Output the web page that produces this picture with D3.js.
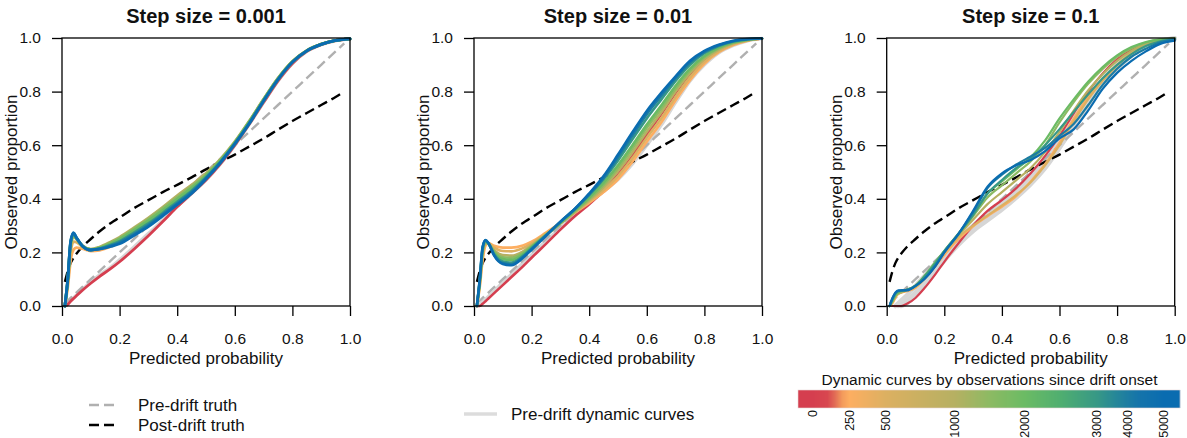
<!DOCTYPE html>
<html><head><meta charset="utf-8">
<script src="https://cdn.jsdelivr.net/npm/d3@7"></script>
<style>
body{margin:0;background:#fff}
svg{display:block}
text{font-family:"Liberation Sans",Arial,Helvetica,sans-serif;fill:#111}
</style>
</head><body>
<svg id="chart" width="1187" height="438"></svg>
<script>
// ---------------- DATA ----------------
const xGrid = [0.01,0.02,0.03,0.04,0.05,0.07,0.1,0.13,0.17,0.2,0.25,0.3,0.35,0.4,0.45,0.5,0.55,0.6,0.65,0.7,0.75,0.8,0.85,0.9,0.95,1.0];
const truthX = [0.01,0.02,0.03,0.04,0.05,0.07,0.1,0.13,0.17,0.2,0.25,0.3,0.35,0.4,0.45,0.5,0.55,0.6,0.65,0.7,0.75,0.8,0.85,0.9,0.95,0.98];
const preTruth = [0.01,0.02,0.03,0.04,0.05,0.07,0.1,0.13,0.17,0.2,0.25,0.3,0.35,0.4,0.45,0.5,0.55,0.6,0.65,0.7,0.75,0.8,0.85,0.9,0.95,0.98];
const postTruth = [0.09,0.13,0.16,0.18,0.195,0.22,0.25,0.278,0.31,0.33,0.365,0.395,0.425,0.452,0.48,0.51,0.538,0.565,0.595,0.625,0.658,0.69,0.72,0.75,0.78,0.8];

const panelTitles = ["Step size = 0.001","Step size = 0.01","Step size = 0.1"];
const curveObs = [0,250,500,1000,1500,2000,3000,4000,5000];

const p1Curves = [
 [0,0.005,0.018,0.028,0.038,0.058,0.085,0.11,0.14,0.165,0.212,0.262,0.315,0.37,0.42,0.47,0.53,0.6,0.678,0.76,0.84,0.905,0.95,0.975,0.99,0.997],
 [0,0.07,0.17,0.21,0.218,0.214,0.205,0.208,0.222,0.238,0.272,0.31,0.35,0.393,0.437,0.483,0.538,0.605,0.682,0.765,0.845,0.91,0.952,0.976,0.991,0.997],
 [0,0.085,0.2,0.24,0.238,0.222,0.21,0.215,0.235,0.252,0.288,0.326,0.366,0.408,0.448,0.492,0.545,0.61,0.687,0.77,0.849,0.912,0.953,0.977,0.991,0.997],
 [0,0.09,0.22,0.258,0.25,0.226,0.212,0.22,0.24,0.257,0.292,0.329,0.369,0.412,0.452,0.495,0.548,0.613,0.69,0.772,0.85,0.913,0.954,0.977,0.991,0.997],
 [0,0.095,0.23,0.263,0.252,0.225,0.211,0.218,0.237,0.253,0.288,0.324,0.364,0.405,0.446,0.49,0.545,0.611,0.688,0.771,0.849,0.912,0.953,0.977,0.991,0.997],
 [0,0.097,0.235,0.266,0.253,0.225,0.21,0.216,0.233,0.249,0.283,0.318,0.357,0.399,0.44,0.486,0.542,0.609,0.686,0.769,0.848,0.911,0.953,0.977,0.991,0.997],
 [0,0.1,0.238,0.27,0.254,0.225,0.209,0.214,0.228,0.242,0.274,0.308,0.347,0.389,0.43,0.48,0.538,0.607,0.683,0.767,0.846,0.91,0.952,0.976,0.991,0.997],
 [0,0.1,0.24,0.272,0.255,0.225,0.209,0.213,0.225,0.237,0.268,0.302,0.342,0.383,0.425,0.477,0.536,0.605,0.681,0.766,0.845,0.91,0.952,0.976,0.991,0.997],
 [0,0.1,0.242,0.274,0.256,0.225,0.209,0.212,0.222,0.232,0.263,0.296,0.336,0.378,0.42,0.474,0.534,0.604,0.68,0.765,0.845,0.91,0.952,0.976,0.991,0.997]
];
const p1Gray = [
 [0,0.008,0.02,0.03,0.04,0.06,0.09,0.115,0.145,0.172,0.22,0.27,0.32,0.372,0.42,0.47,0.53,0.6,0.678,0.76,0.84,0.905,0.95,0.975,0.99,0.997]
];

const p2Curves = [
 [0,0,0.008,0.018,0.028,0.048,0.078,0.108,0.148,0.18,0.232,0.285,0.335,0.38,0.43,0.49,0.56,0.64,0.715,0.795,0.865,0.92,0.956,0.979,0.992,0.998],
 [0,0.07,0.17,0.225,0.235,0.225,0.218,0.218,0.226,0.24,0.274,0.31,0.348,0.385,0.425,0.473,0.538,0.613,0.685,0.768,0.843,0.904,0.947,0.974,0.99,0.998],
 [0,0.08,0.19,0.232,0.234,0.218,0.205,0.204,0.216,0.233,0.27,0.309,0.349,0.39,0.433,0.485,0.552,0.628,0.7,0.78,0.853,0.911,0.951,0.977,0.991,0.998],
 [0,0.085,0.2,0.238,0.232,0.208,0.19,0.188,0.204,0.226,0.266,0.308,0.351,0.395,0.443,0.503,0.573,0.65,0.722,0.8,0.869,0.922,0.957,0.98,0.992,0.998],
 [0,0.09,0.205,0.24,0.232,0.203,0.182,0.18,0.198,0.222,0.265,0.309,0.354,0.4,0.452,0.515,0.588,0.665,0.736,0.812,0.878,0.928,0.961,0.982,0.993,0.998],
 [0,0.092,0.21,0.242,0.233,0.198,0.175,0.172,0.193,0.22,0.264,0.31,0.357,0.405,0.46,0.525,0.6,0.677,0.748,0.822,0.886,0.933,0.964,0.984,0.994,0.998],
 [0,0.095,0.215,0.244,0.234,0.193,0.166,0.162,0.187,0.216,0.264,0.313,0.362,0.414,0.473,0.543,0.622,0.7,0.77,0.84,0.9,0.943,0.97,0.987,0.995,0.998],
 [0,0.098,0.22,0.245,0.235,0.19,0.16,0.156,0.183,0.213,0.263,0.314,0.362,0.417,0.478,0.555,0.636,0.716,0.784,0.85,0.908,0.948,0.973,0.988,0.996,0.998],
 [0,0.1,0.22,0.246,0.235,0.188,0.157,0.152,0.18,0.21,0.262,0.315,0.362,0.42,0.485,0.565,0.648,0.728,0.795,0.857,0.915,0.952,0.975,0.99,0.996,0.998]
];
const p2Gray = [
 [0,0.005,0.015,0.025,0.035,0.055,0.088,0.118,0.16,0.19,0.242,0.292,0.34,0.385,0.428,0.472,0.53,0.6,0.675,0.76,0.84,0.9,0.945,0.972,0.99,0.998]
];

const p3Curves = [
 [0,0,0,0,0,0.008,0.03,0.065,0.12,0.165,0.235,0.3,0.355,0.395,0.44,0.495,0.56,0.635,0.72,0.8,0.868,0.92,0.955,0.978,0.992,0.998],
 [0,0.01,0.03,0.045,0.05,0.055,0.068,0.1,0.15,0.19,0.25,0.297,0.335,0.37,0.41,0.465,0.53,0.61,0.7,0.782,0.845,0.9,0.945,0.975,0.99,0.998],
 [0,0.015,0.035,0.05,0.055,0.06,0.075,0.105,0.155,0.198,0.258,0.3,0.338,0.375,0.415,0.462,0.525,0.6,0.69,0.772,0.84,0.898,0.944,0.975,0.99,0.998],
 [0,0.015,0.035,0.045,0.05,0.06,0.072,0.105,0.16,0.2,0.265,0.322,0.38,0.425,0.47,0.515,0.575,0.65,0.73,0.805,0.865,0.915,0.952,0.978,0.992,0.998],
 [0,0.02,0.04,0.05,0.055,0.06,0.075,0.11,0.163,0.205,0.27,0.335,0.405,0.45,0.495,0.54,0.6,0.685,0.762,0.83,0.885,0.93,0.962,0.983,0.994,0.998],
 [0,0.02,0.04,0.05,0.056,0.06,0.077,0.11,0.165,0.205,0.272,0.34,0.42,0.465,0.51,0.555,0.618,0.7,0.772,0.838,0.892,0.935,0.966,0.985,0.995,0.998],
 [0,0.025,0.045,0.055,0.057,0.06,0.075,0.108,0.16,0.205,0.27,0.34,0.42,0.47,0.515,0.55,0.6,0.66,0.725,0.79,0.85,0.9,0.94,0.97,0.988,0.997],
 [0,0.028,0.048,0.056,0.058,0.06,0.075,0.1,0.152,0.2,0.27,0.35,0.44,0.49,0.528,0.558,0.59,0.635,0.68,0.75,0.825,0.885,0.93,0.96,0.984,0.995],
 [0,0.03,0.05,0.058,0.058,0.058,0.075,0.1,0.15,0.2,0.27,0.355,0.445,0.495,0.525,0.545,0.578,0.625,0.66,0.73,0.81,0.87,0.915,0.95,0.978,0.99]
];
const p3Gray = [
 [null,null,null,0,0.005,0.02,0.05,0.09,0.14,0.18,0.24,0.29,0.33,0.37,0.42,0.47,0.53,0.6,0.68,0.76,0.83,0.89,0.94,0.97,0.988,0.998],
 [null,null,0,0.01,0.02,0.04,0.075,0.11,0.16,0.195,0.255,0.3,0.345,0.385,0.435,0.49,0.55,0.62,0.7,0.775,0.845,0.9,0.945,0.972,0.99,0.998],
 [null,null,null,null,0,0.01,0.04,0.08,0.13,0.17,0.23,0.28,0.32,0.36,0.405,0.455,0.515,0.59,0.67,0.75,0.825,0.885,0.935,0.968,0.988,0.998]
];

const colorObs = [0,100,150,200,250,500,1000,1500,2000,2500,3000,3600,4300,5000];
const colorHex = ["#d53e4f","#d8474f","#e26c55","#f39a5c","#fdae61","#dcb061","#b6b062","#8cba63","#6bbb64","#4fae70","#379886","#268798","#1574aa","#0a6cb0"];
const cbTicks = [0,250,500,1000,2000,3000,4000,5000];
const axisTicks = [0,0.2,0.4,0.6,0.8,1.0];
const cbTitle = "Dynamic curves by observations since drift onset";
const legendLabels = ["Pre-drift truth","Post-drift truth","Pre-drift dynamic curves"];
const xLabel = "Predicted probability", yLabel = "Observed proportion";

// ---------------- DRAW ----------------
const svg = d3.select("#chart");
const color = d3.scaleLinear().domain(colorObs).range(colorHex).interpolate(d3.interpolateRgb).clamp(true);
const panels = [
  {curves:p1Curves, gray:p1Gray, lw:2.8},
  {curves:p2Curves, gray:p2Gray, lw:2.6},
  {curves:p3Curves, gray:p3Gray, lw:2.2}
];
const lefts = [62, 474, 886.7], plotTop = 38, pw = 288, ph = 268;

panels.forEach((P, i) => {
  const g = svg.append("g");
  const x = d3.scaleLinear().domain([0,1]).range([lefts[i], lefts[i]+pw]);
  const y = d3.scaleLinear().domain([0,1]).range([plotTop+ph, plotTop]);
  const line = d3.line().defined(d => d[1] != null).x(d => x(d[0])).y(d => y(d[1])).curve(d3.curveMonotoneX);

  P.gray.forEach(arr => {
    g.append("path").attr("d", line(xGrid.map((v,k) => [v, arr[k]])))
      .attr("fill","none").attr("stroke","#d6d6d6").attr("stroke-width", i===2?4.5:3.5)
      .attr("stroke-linecap","round");
  });
  g.append("path").attr("d", line(truthX.map((v,k)=>[v, preTruth[k]])))
    .attr("fill","none").attr("stroke","#b0b0b0").attr("stroke-width",2.4).attr("stroke-dasharray","10,5");
  g.append("path").attr("d", line(truthX.map((v,k)=>[v, postTruth[k]])))
    .attr("fill","none").attr("stroke","#000").attr("stroke-width",2.4).attr("stroke-dasharray","10,5");

  P.curves.forEach((arr, k) => {
    g.append("path").attr("d", line(xGrid.map((v,j) => [v, arr[j]])))
      .attr("fill","none").attr("stroke", color(curveObs[k])).attr("stroke-width", P.lw)
      .attr("stroke-linejoin","round").attr("stroke-linecap","round");
  });

  g.append("rect").attr("x", x(0)).attr("y", y(1)).attr("width", pw).attr("height", ph)
    .attr("fill","none").attr("stroke","#000").attr("stroke-width",1.3);

  const ax = g.append("g").attr("transform", `translate(0,${y(0)})`)
    .call(d3.axisBottom(x).tickValues(axisTicks).tickFormat(d3.format(".1f")).tickSize(10).tickPadding(17));
  const ay = g.append("g").attr("transform", `translate(${x(0)},0)`)
    .call(d3.axisLeft(y).tickValues(axisTicks).tickFormat(d3.format(".1f")).tickSize(10).tickPadding(11));
  [ax, ay].forEach(a => {
    a.select(".domain").remove();
    a.selectAll(".tick line").attr("stroke","#000").attr("stroke-width",1.3);
    a.selectAll(".tick text").attr("font-size","15.5px").attr("fill","#111")
      .attr("font-family",'"Liberation Sans",Arial,sans-serif');
  });

  g.append("text").attr("x", (x(0)+x(1))/2).attr("y", 23).attr("text-anchor","middle")
    .attr("font-size","20px").attr("font-weight","bold").text(panelTitles[i]);
  g.append("text").attr("x", (x(0)+x(1))/2).attr("y", 364).attr("text-anchor","middle")
    .attr("font-size","17px").text(xLabel);
  g.append("text").attr("transform", `translate(${x(0)-51},${(y(0)+y(1))/2}) rotate(-90)`)
    .attr("text-anchor","middle").attr("dy","0.35em").attr("font-size","17px").text(yLabel);
});

// legend
const lg = svg.append("g");
lg.append("line").attr("x1",89).attr("x2",116).attr("y1",405).attr("y2",405)
  .attr("stroke","#b0b0b0").attr("stroke-width",2.4).attr("stroke-dasharray","10,5");
lg.append("line").attr("x1",89).attr("x2",116).attr("y1",425).attr("y2",425)
  .attr("stroke","#000").attr("stroke-width",2.4).attr("stroke-dasharray","10,5");
lg.append("text").attr("x",138).attr("y",405).attr("dy","0.35em").attr("font-size","17px").text(legendLabels[0]);
lg.append("text").attr("x",138).attr("y",425).attr("dy","0.35em").attr("font-size","17px").text(legendLabels[1]);
lg.append("line").attr("x1",464).attr("x2",497).attr("y1",414).attr("y2",414)
  .attr("stroke","#dcdcdc").attr("stroke-width",3.5);
lg.append("text").attr("x",511).attr("y",414).attr("dy","0.35em").attr("font-size","17px").text(legendLabels[2]);

// colorbar
const cbX0 = 798, cbX1 = 1180, cbY = 390, cbH = 18;
const cbPos = d3.scaleLinear()
  .domain([0,500,1000,2000,3000,4000,5000])
  .range([813, 886, 955, 1025, 1097, 1128, 1164]).clamp(true);
const cb = svg.append("g");
d3.range(cbX0, cbX1).forEach(px => {
  cb.append("rect").attr("x", px).attr("y", cbY).attr("width", 1.2).attr("height", cbH)
    .attr("fill", color(cbPos.invert(px + 0.5)));
});
cb.append("rect").attr("x", cbX0).attr("y", cbY).attr("width", cbX1-cbX0).attr("height", cbH)
  .attr("fill","none").attr("stroke","#e8d8d8").attr("stroke-width",0.6);
cb.append("text").attr("x", 989.5).attr("y", 385).attr("text-anchor","middle").attr("font-size","15.5px").text(cbTitle);
cbTicks.forEach(t => {
  cb.append("text").attr("transform", `translate(${cbPos(t)},410) rotate(-90)`)
    .attr("text-anchor","end").attr("dy","0.35em").attr("font-size","12.5px").text(t);
});
</script>
</body></html>
